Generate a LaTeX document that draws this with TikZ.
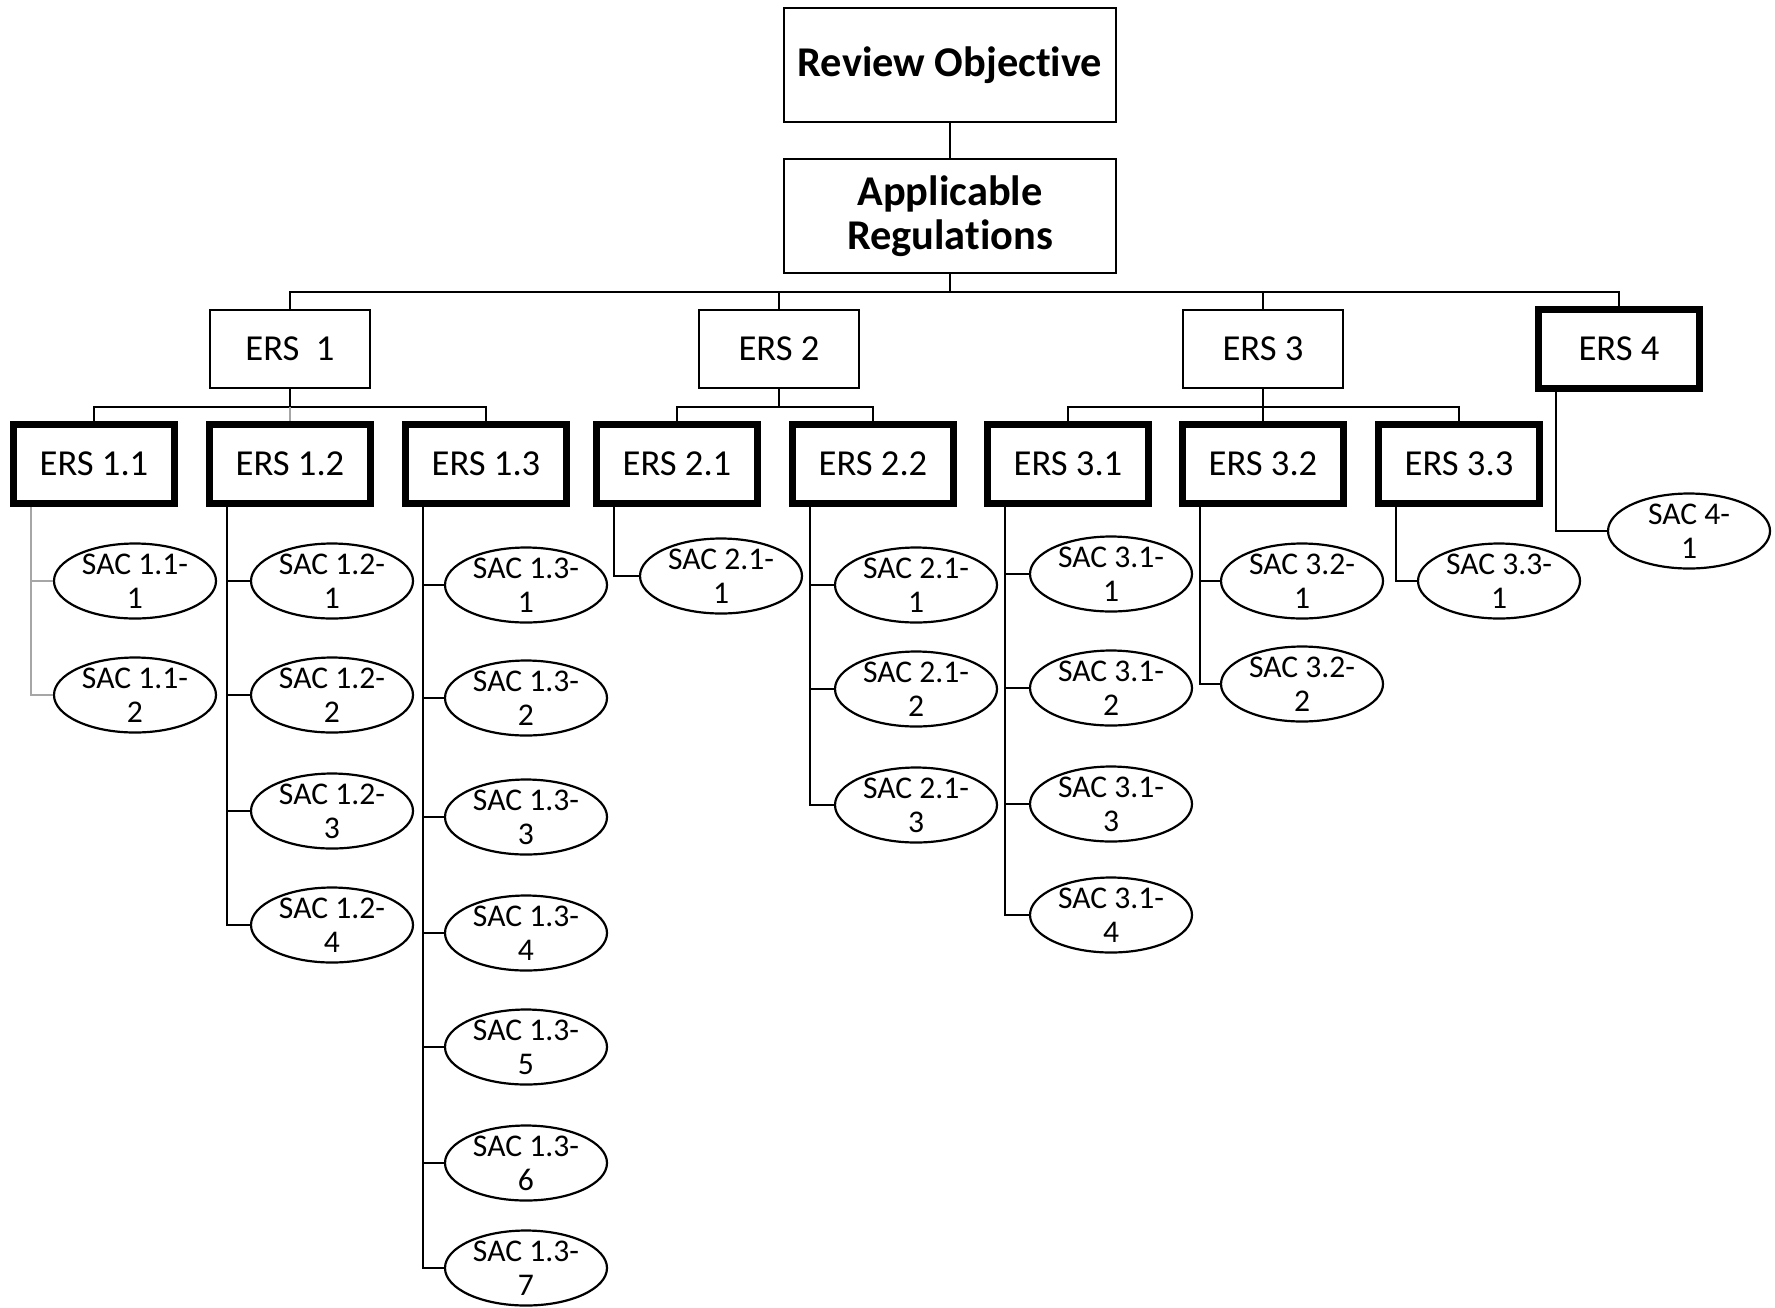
\documentclass[tikz,border=0pt]{standalone}
\usepackage{fontspec}
\setmainfont{Carlito}[Ligatures=NoCommon]
\usetikzlibrary{shapes.geometric,positioning,calc}
\definecolor{linegrey}{RGB}{166,166,166}

\begin{document}
\begin{tikzpicture}[
    x=0.5pt, y=-0.5pt,
    % Style definitions
    headbox/.style={rectangle, draw, line width=1.3pt, minimum width=166pt, minimum height=57pt, align=center, font=\fontsize{21.2}{22}\selectfont\bfseries},
    ersbox/.style={rectangle, draw, line width=1.2pt, minimum width=80pt, minimum height=39pt, font=\fontsize{18.3}{20}\selectfont},
    ersthick/.style={ersbox, line width=3.8pt, minimum width=80.5pt, minimum height=39.5pt},
    sac/.style={ellipse, draw, line width=1.1pt, minimum width=81pt, minimum height=37.5pt, inner xsep=0pt, inner ysep=-1.5pt, align=center, font=\fontsize{15.8}{17}\selectfont},
    link/.style={line width=1.2pt},
    greylink/.style={line width=1.2pt, draw=linegrey}
]
\useasboundingbox (0,0) rectangle (1775,1307);

% Top of the tree
\node[headbox] (objective) at (950,65) {Review Objective};
\node[headbox] (regs) at (950,216) {Applicable\\Regulations};

% Layer 1: ERS
\node[ersbox] (ers1) at (290,349) {ERS\ \ 1};
\node[ersbox] (ers2) at (779,349) {ERS 2};
\node[ersbox] (ers3) at (1263,349) {ERS 3};
\node[ersthick] (ers4) at (1619,349) {ERS 4};

% Layer 2: ERS x.y
\node[ersthick] (ers11) at (94,464) {ERS 1.1};
\node[ersthick] (ers12) at (290,464) {ERS 1.2};
\node[ersthick] (ers13) at (486,464) {ERS 1.3};
\node[ersthick] (ers21) at (677,464) {ERS 2.1};
\node[ersthick] (ers22) at (873,464) {ERS 2.2};
\node[ersthick] (ers31) at (1068,464) {ERS 3.1};
\node[ersthick] (ers32) at (1263,464) {ERS 3.2};
\node[ersthick] (ers33) at (1459,464) {ERS 3.3};

% Layer 3: SAC
\foreach \i/\y in {1/581, 2/695}
  \node[sac] (sac11-\i) at (135,\y) {SAC 1.1-\\\i};
\foreach \i/\y in {1/581, 2/695, 3/811, 4/925}
  \node[sac] (sac12-\i) at (332,\y) {SAC 1.2-\\\i};
\foreach \i/\y in {1/585, 2/698, 3/817, 4/933, 5/1047, 6/1163, 7/1268}
  \node[sac] (sac13-\i) at (526,\y) {SAC 1.3-\\\i};
\node[sac] (sac21-1) at (721,576) {SAC 2.1-\\1};
\foreach \i/\y in {1/585, 2/689, 3/805}
  \node[sac] (sac22-\i) at (916,\y) {SAC 2.1-\\\i};
\foreach \i/\y in {1/574, 2/688, 3/804, 4/915}
  \node[sac] (sac31-\i) at (1111,\y) {SAC 3.1-\\\i};
\foreach \i/\y in {1/581, 2/684}
  \node[sac] (sac32-\i) at (1302,\y) {SAC 3.2-\\\i};
\node[sac] (sac33-1) at (1499,581) {SAC 3.3-\\1};
\node[sac] (sac4-1) at (1689,531) {SAC 4-\\1};

% Connections: top
\coordinate (bus) at (950,292);
\draw[line width=1.3pt] (objective) -- (regs);
\draw[link] (regs.south) -- (bus);
\draw[link] (ers1.north) |- (bus) -| (ers4.north);
\draw[link] (ers2.north) -- (ers2.north |- bus);
\draw[link] (ers3.north) -- (ers3.north |- bus);

% Connections: ERS -> ERS x.y
\coordinate (b1) at (290,407);
\coordinate (b2) at (779,407);
\coordinate (b3) at (1263,407);
\draw[link] (ers1.south) -- (b1);
\draw[link] (ers11.north) |- (b1) -| (ers13.north);
\draw[greylink] (b1) -- (ers12.north);
\draw[link] (ers2.south) -- (b2);
\draw[link] (ers21.north) |- (b2) -| (ers22.north);
\draw[link] (ers3.south) -- (ers32.north);
\draw[link] (ers31.north) |- (b3) -| (ers33.north);

% Connections: ERS x.y -> SAC
\coordinate (l11) at ([xshift=-31.5pt]ers11.south);
\draw[greylink] (l11) |- (sac11-2.west);
\draw[greylink] (l11 |- sac11-1.west) -- (sac11-1.west);

\coordinate (l12) at ([xshift=-31.5pt]ers12.south);
\draw[link] (l12) |- (sac12-4.west);
\foreach \i in {1,2,3}
  \draw[link] (l12 |- sac12-\i.west) -- (sac12-\i.west);

\coordinate (l13) at ([xshift=-31.5pt]ers13.south);
\draw[link] (l13) |- (sac13-7.west);
\foreach \i in {1,...,6}
  \draw[link] (l13 |- sac13-\i.west) -- (sac13-\i.west);

\draw[link] ([xshift=-31.5pt]ers21.south) |- (sac21-1.west);

\coordinate (l22) at ([xshift=-31.5pt]ers22.south);
\draw[link] (l22) |- (sac22-3.west);
\foreach \i in {1,2}
  \draw[link] (l22 |- sac22-\i.west) -- (sac22-\i.west);

\coordinate (l31) at ([xshift=-31.5pt]ers31.south);
\draw[link] (l31) |- (sac31-4.west);
\foreach \i in {1,2,3}
  \draw[link] (l31 |- sac31-\i.west) -- (sac31-\i.west);

\coordinate (l32) at ([xshift=-31.5pt]ers32.south);
\draw[link] (l32) |- (sac32-2.west);
\draw[link] (l32 |- sac32-1.west) -- (sac32-1.west);

\draw[link] ([xshift=-31.5pt]ers33.south) |- (sac33-1.west);
\draw[link] ([xshift=-31.5pt]ers4.south) |- (sac4-1.west);

\end{tikzpicture}
\end{document}
